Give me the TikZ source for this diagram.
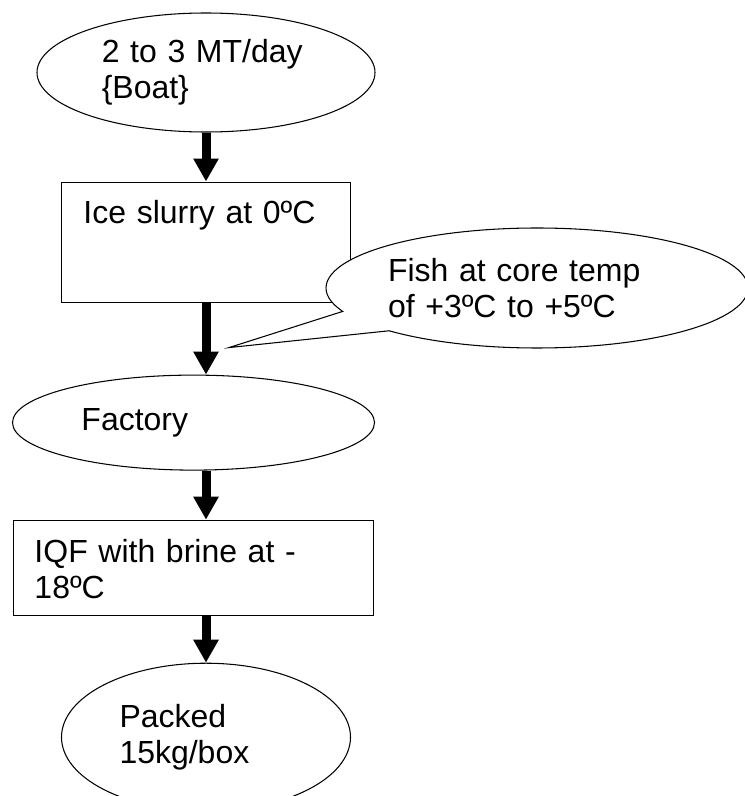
\documentclass[tikz,border=0pt]{standalone}
\usepackage{fontspec}
\setmainfont{Liberation Sans}
\usetikzlibrary{positioning, shapes.geometric, shapes.callouts, arrows.meta}

\begin{document}
\begin{tikzpicture}[
  node distance=0.98cm,
  every node/.style={font=\fontsize{18.2pt}{20.5pt}\selectfont, inner sep=0pt, align=left},
  stage/.style={ellipse, draw, line width=0.6pt, fill=white},
  process/.style={rectangle, draw, line width=0.6pt, fill=white},
  note/.style={ellipse callout, draw, line width=0.6pt, fill=white, callout pointer arc=22.5},
  flow/.style={-{Triangle[length=0.46cm, width=0.48cm]}, line width=0.18cm}
]
\useasboundingbox (0,0) rectangle (14.9,15.92);

\node[stage, minimum width=6.76cm, minimum height=2.38cm, text width=4.17cm] (boat) at (4.12,14.47) {2 to 3 MT/day\\\{Boat\}};
\node[process, below=of boat, inner xsep=0.44cm, text width=4.9cm, text height=0.82cm, text depth=1.58cm] (ice) {Ice slurry at 0ºC};
\node[stage, below=1.44cm of ice, xshift=-0.25cm, minimum width=7.24cm, minimum height=1.9cm, text width=4.48cm] (factory) {Factory};
\node[process, below=of factory, inner xsep=0.42cm, text width=6.36cm, text height=0.84cm, text depth=1.06cm] (iqf) {IQF with brine at -\\18ºC};
\node[stage, below=0.94cm of iqf, xshift=0.25cm, minimum width=5.78cm, minimum height=2.96cm, text width=3.46cm] (packed) {Packed\\15kg/box};

% core temperature note, pointing at the slurry arrow
\coordinate (tip) at ([shift={(0.46cm,-0.9cm)}]ice.south);
\node[note, callout absolute pointer={(tip)}, minimum width=8.44cm, minimum height=2.4cm, text width=5.96cm] (coretemp) at (10.74,10.16) {Fish at core temp\\of +3ºC to +5ºC};

\draw[flow] (boat.south) -- (ice.north);
\draw[flow] (ice.south) -- (ice.south |- factory.north);
\draw[flow] (ice.south |- factory.south) -- (ice.south |- iqf.north);
\draw[flow] (packed.north |- iqf.south) -- (packed.north);
\end{tikzpicture}
\end{document}
